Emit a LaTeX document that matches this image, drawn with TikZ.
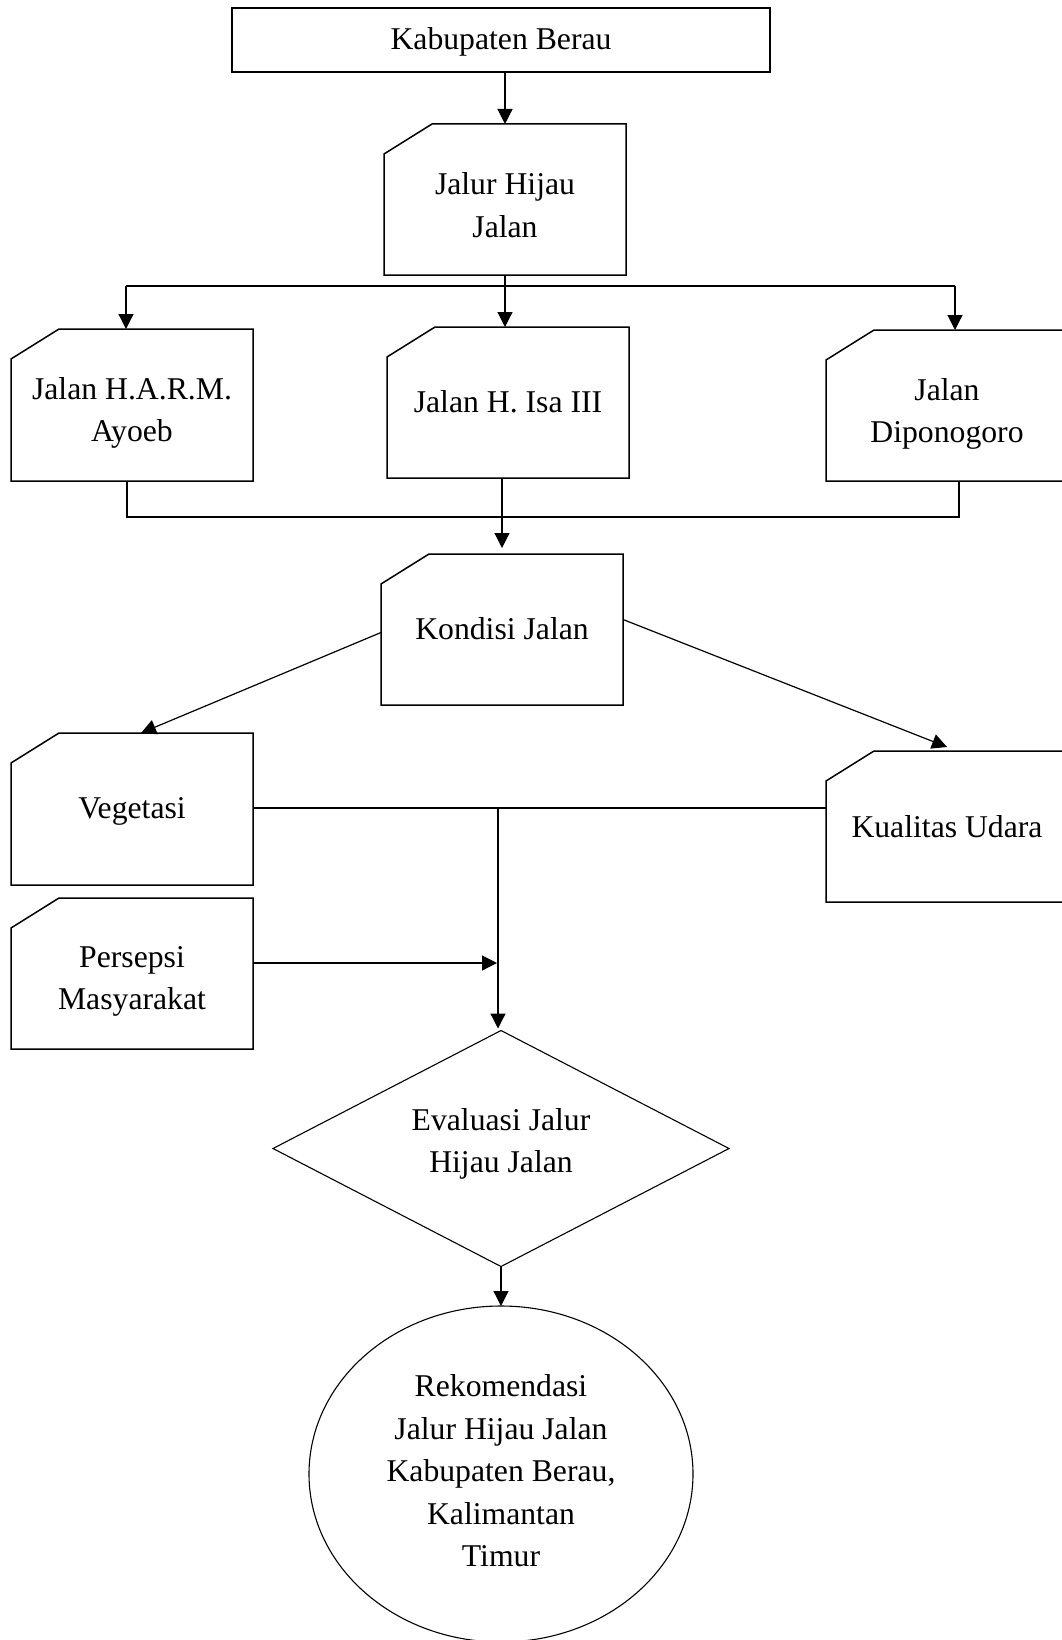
\documentclass[tikz,border=0pt]{standalone}
\usepackage{fontspec}
\setmainfont{Liberation Serif}
\usetikzlibrary{shapes.geometric,arrows.meta}
\tikzset{
  card/.style={rectangle, minimum width=242pt, minimum height=151pt, inner sep=0pt, outer sep=0pt,
    append after command={\pgfextra{\let\cardnode=\tikzlastnode
      \draw[line width=1.5pt] ([yshift=-30pt]\cardnode.north west) -- ([xshift=48pt]\cardnode.north west)
        -- (\cardnode.north east) -- (\cardnode.south east) -- (\cardnode.south west) -- cycle;}}},
  lbl/.style={align=center, inner sep=0pt, font=\fontsize{31.7}{42.5}\selectfont},
  conn/.style={line width=1.2pt},
  arr/.style={line width=1.2pt, -{Triangle[length=15pt,width=15pt]}},
}
\begin{document}
\begin{tikzpicture}[x=1pt,y=-1pt]
\useasboundingbox (0,0) rectangle (1062,1640);
% top box
\node[draw, line width=2pt, minimum width=538pt, minimum height=64pt, inner sep=0pt, outer sep=0pt] (berau) at (501,40) {};
\node[lbl] (berauT) at (501,42) {Kabupaten Berau};
% jalur hijau
\node[card] (jalur) at (505,199.5) {};
\node[lbl] (jalurT) at (505,205) {Jalur Hijau\\Jalan};
% three roads
\node[card, minimum height=152pt] (harm) at (132,405) {};
\node[lbl] (harmT) at (132,413) {Jalan H.A.R.M.\\Ayoeb};
\node[card] (isa) at (508,402.5) {};
\node[lbl] (isaT) at (508,402) {Jalan H. Isa III};
\node[card] (dipo) at (947,405.5) {};
\node[lbl] (dipoT) at (947,414) {Jalan\\Diponogoro};
% kondisi
\node[card] (kond) at (502,629.5) {};
\node[lbl] (kondT) at (502,628.5) {Kondisi Jalan};
% vegetasi, kualitas, persepsi
\node[card, minimum height=152pt] (veg) at (132,809) {};
\node[lbl] (vegT) at (132,811) {Vegetasi};
\node[card] (kual) at (947,826.5) {};
\node[lbl] (kualT) at (947,826.5) {Kualitas Udara};
\node[card] (pers) at (132,973.5) {};
\node[lbl] (persT) at (132,981.5) {Persepsi\\Masyarakat};
% diamond
\node[draw, diamond, line width=1.1pt, minimum width=456pt, minimum height=236pt, inner sep=0pt, outer sep=0pt] (diam) at (501,1148.5) {};
\node[lbl] (diamT) at (501,1144) {Evaluasi Jalur\\Hijau Jalan};
% ellipse
\node[draw, ellipse, line width=1.1pt, minimum width=384pt, minimum height=336pt, inner sep=0pt, outer sep=0pt] (ell) at (501,1474) {};
\node[lbl] (ellT) at (501,1471) {Rekomendasi\\Jalur Hijau Jalan\\Kabupaten Berau,\\Kalimantan\\Timur};

% connectors
\draw[arr] (jalur.north |- berau.south) -- (jalur.north);
\coordinate (bL) at (126,286);
\coordinate (bR) at (955,286);
\draw[conn] (jalur.south) -- (jalur.south |- bL);
\draw[conn] (bL) -- (bR);
\draw[arr] (bL) -- (bL |- harm.north);
\draw[arr] (jalur.south |- bL) -- (jalur.south |- isa.north);
\draw[arr] (bR) -- (bR |- dipo.north);

\coordinate (cL) at (127,517);
\coordinate (cR) at (959,517);
\draw[conn] (cL |- harm.south) -- (cL) -- (cR) -- (cR |- dipo.south);
\draw[arr] (kond.north |- isa.south) -- ([yshift=6pt]kond.north);

\draw[arr] ([yshift=-3pt]kond.west) -- ([xshift=9pt]veg.north);
\draw[arr] ([yshift=10pt]kond.east) -- ([yshift=4pt]kual.north);

\draw[conn] ([yshift=1pt]veg.east) -- ([yshift=1pt]veg.east -| kual.west);
\coordinate (jn) at (498,808);
\draw[arr] (jn) -- ([yshift=2pt]jn |- diam.north);
\draw[arr] (pers.east |- 0,963) -- ([xshift=-1pt]jn |- 0,963);

\draw[arr] (diam.south) -- (ell.north);
\end{tikzpicture}
\end{document}
